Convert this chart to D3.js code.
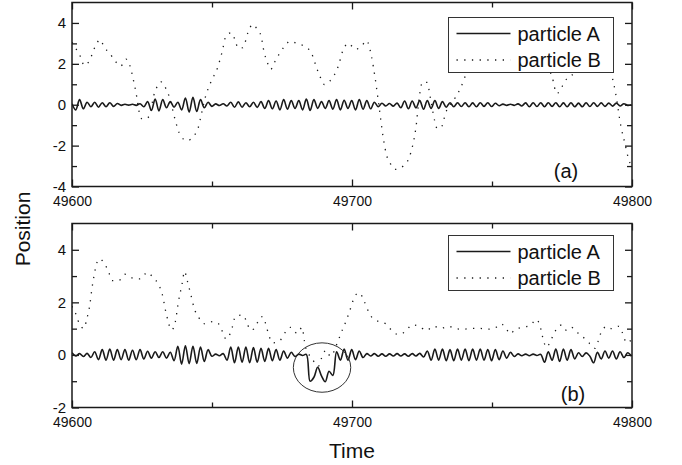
<!DOCTYPE html>
<html>
<head>
<meta charset="utf-8">
<script src="https://cdn.jsdelivr.net/npm/d3@7"></script>
<style>
  html, body { margin: 0; padding: 0; background: #fff; }
  svg { display: block; }
  text { font-family: "Liberation Sans", Arial, Helvetica, sans-serif; fill: #111; }
</style>
</head>
<body>
<svg id="chart" width="682" height="465"></svg>
<script>
// ---- data ---------------------------------------------------------------
const timeDomain = [49600, 49800];
const xMajorTicks = [49600, 49700, 49800];
const xMinorTicks = [49650, 49750];
const seriesNames = ["particle A", "particle B"];
const panelTags = ["(a)", "(b)"];

// particle A: successive turning points of the fast oscillation, one every half period
const halfPeriod = 1.35;

const topPosA = [
  0.05, -0.25, 0.25, -0.2,
  0.12, -0.1, 0.12, -0.12, 0.1, -0.1,
  0.1, -0.08, 0.06,
  -0.03, 0.02, -0.02, 0.02, -0.03, 0.05,
  -0.1, 0.15,
  -0.28, 0.28, -0.3, 0.25,
  -0.15, 0.15, -0.12, 0.12,
  -0.25, 0.33, -0.36, 0.36, -0.33, 0.25,
  -0.15, 0.12, -0.08,
  0.04, -0.04, 0.05, -0.06,
  0.12, -0.12, 0.14, -0.12, 0.1, -0.1, 0.12, -0.13,
  0.15, -0.18, 0.2, -0.2, 0.18, -0.25, 0.25, -0.22, 0.2, -0.18,
  0.2, -0.25, 0.28, -0.28, 0.25, -0.18, 0.15, -0.18, 0.2, -0.22,
  0.25, -0.25, 0.22, -0.18, 0.2, -0.25, 0.25, -0.22, 0.2, -0.2,
  0.12, -0.1,
  0.07, -0.06, 0.06, -0.07, 0.08,
  -0.15, 0.18, -0.2, 0.18, -0.15, 0.2, -0.22, 0.2, -0.18, 0.2, -0.18, 0.15, -0.12, 0.1,
  -0.1, 0.1, -0.09, 0.1, -0.1, 0.09, -0.1, 0.1, -0.08, 0.1, -0.09, 0.07, -0.05,
  0.03, -0.03, 0.02, -0.03, 0.04, -0.06,
  0.09, -0.1, 0.1, -0.09, 0.1, -0.1, 0.1, -0.08, 0.1, -0.1, 0.09, -0.1, 0.1, -0.1,
  0.08, -0.1, 0.1, -0.09, 0.1, -0.08, 0.09,
  -0.08, 0.08, -0.07, 0.08, -0.06, 0.05,
  -0.03, 0.0
];

const bottomPosA = [
  0.08, -0.04, 0.05, -0.06, 0.06,
  -0.1, 0.12,
  -0.18, 0.2, -0.2, 0.22, -0.2, 0.2, -0.18, 0.2, -0.2, 0.18, -0.18, 0.2, -0.15, 0.14,
  -0.12, 0.12, -0.1, 0.12, -0.12, 0.1,
  -0.22, 0.33, -0.35, 0.35, -0.33, 0.33, -0.32, 0.3, -0.25, 0.2,
  -0.05, 0.03, -0.03, 0.05,
  -0.2, 0.3, -0.3, 0.3, -0.28, 0.3, -0.3, 0.28, -0.28, 0.25,
  -0.25, 0.25, -0.22, 0.2, -0.2, 0.15,
  -0.12, 0.1, -0.06,
  0.03, -0.02, 0.02,
  -1.0, -0.85, -0.47, -0.8, -1.02, -0.62, -0.78,
  0.12, -0.2, 0.22, -0.2, 0.2, -0.18, 0.15, -0.1,
  0.05, -0.04, 0.05, -0.05, 0.04, -0.05, 0.04, -0.04, 0.05, -0.04, 0.04, -0.05, 0.05, -0.04, 0.06, -0.08,
  0.15, -0.2, 0.22, -0.2, 0.22, -0.22, 0.2, -0.22, 0.22, -0.2, 0.22, -0.22, 0.22, -0.2, 0.22, -0.2,
  0.2, -0.22, 0.2, -0.18, 0.15, -0.12, 0.1, -0.06, 0.04,
  -0.03, 0.03, -0.03, 0.03, -0.02, 0.02,
  -0.28,
  0.12, -0.2, 0.22, -0.25, 0.22, -0.2, 0.2, -0.15,
  0.08, -0.06, 0.08, -0.05,
  -0.3,
  0.1, -0.15, 0.15, -0.12, 0.15, -0.15, 0.12, -0.1,
  0.08, -0.05
];

// particle B: sampled times and positions
const topTimeB = [
  49600, 49601.8, 49603.2, 49604.3, 49606.1, 49608.3, 49610, 49611.5, 49613.6, 49615.5,
  49617.4, 49619.3, 49620.7, 49622, 49623.1, 49624, 49625.1, 49627, 49628.1, 49629.2,
  49630.2, 49631.8, 49633.6, 49634.8, 49635.6, 49636.9, 49638.7, 49641.1, 49643.5, 49645,
  49646.3, 49647.5, 49649.5, 49652, 49653.6, 49655, 49656.9, 49658.3, 49659.3, 49661,
  49662.9, 49664.5, 49666, 49667.5, 49668.6, 49669.8, 49671, 49672.4, 49675.7, 49677.9,
  49680.7, 49683.2, 49685.5, 49687.5, 49688.6, 49690.1, 49692.1, 49695.1, 49696.7, 49698.7,
  49701.3, 49703.6, 49705.2, 49706.9, 49708.3, 49709.5, 49711.3, 49712.4, 49713.6, 49715.6,
  49718.3, 49720.2, 49721.8, 49722.8, 49724, 49725.2, 49726.8, 49728, 49729.5, 49730.4,
  49731.8, 49733.5, 49736.8, 49738.8, 49740.8, 49744, 49748, 49752, 49757, 49762,
  49767, 49769.5, 49771.5, 49773.1, 49776.7, 49778.6, 49782, 49786, 49790, 49792.7,
  49794.2, 49796, 49797.5, 49798.8, 49800
];
const topPosB = [
  3.05, 2.65, 2.3, 1.92, 2.12, 2.85, 3.18, 2.82, 2.49, 2.12,
  1.89, 2.23, 1.9, 1.16, 0.41, -0.36, -0.7, -0.65, -0.29, 0.45,
  0.83, 1.12, 0.77, 0.36, -0.05, -0.77, -1.5, -1.76, -1.52, -1.16,
  -0.41, 0.31, 1.08, 1.82, 2.58, 3.36, 3.52, 3.14, 2.77, 2.79,
  3.55, 3.93, 3.72, 3.37, 2.58, 2.05, 1.73, 2.09, 2.82, 3.1,
  2.97, 2.85, 2.53, 1.75, 1.37, 0.99, 1.16, 1.89, 2.63, 3.0,
  2.71, 2.9, 3.14, 2.4, 1.27, 0.08, -1.74, -2.49, -2.85, -3.16,
  -3.0, -2.66, -1.91, -1.16, 0.34, 1.11, 1.09, 0.33, -0.77, -1.16,
  -1.12, -0.38, 0.33, 0.82, 1.52, 2.3, 2.6, 2.2, 2.7, 2.3,
  2.2, 1.9, 1.35, 0.55, 1.26, 1.45, 2.1, 2.4, 2.0, 1.45,
  0.52, -1.03, -1.91, -2.66, -3.05
];

const bottomTimeB = [
  49600, 49601.7, 49602.6, 49604.3, 49605.2, 49606.4, 49607.1, 49608, 49608.6, 49609.8,
  49611.9, 49613.2, 49614.3, 49616.7, 49618.9, 49621.7, 49624.3, 49626.9, 49629, 49631,
  49632.1, 49633.8, 49635.6, 49636.8, 49638.1, 49639.3, 49640.2, 49641, 49642.4, 49643.8,
  49645.2, 49647.5, 49650.2, 49652.4, 49653.7, 49655, 49656.8, 49658.4, 49660.8, 49662.5,
  49663.6, 49665.1, 49666.5, 49668, 49669.3, 49670.2, 49671.8, 49674.3, 49675.7, 49678.1,
  49680.4, 49682.2, 49683, 49683.6, 49685.5, 49688, 49689, 49690.7, 49692.3, 49695,
  49696.2, 49698.1, 49700, 49700.9, 49702.7, 49704.3, 49706.6, 49709.3, 49712.2, 49714,
  49716.4, 49719.1, 49721.4, 49724.1, 49726.5, 49729.3, 49731.6, 49734.6, 49736.8, 49739.7,
  49742.7, 49745.7, 49748.4, 49750.8, 49753.2, 49755.2, 49756.4, 49758.4, 49760.8, 49763.6,
  49765.9, 49767.1, 49768.4, 49769.4, 49770.7, 49771.9, 49773.4, 49774.9, 49776.7, 49778.4,
  49780.6, 49782.2, 49784.6, 49786.8, 49788, 49788.9, 49791.1, 49792.7, 49795.3, 49796.5,
  49798.1, 49800
];
const bottomPosB = [
  1.85, 1.47, 1.18, 1.01, 1.34, 1.93, 2.51, 3.08, 3.4, 3.65,
  3.42, 3.12, 2.83, 2.83, 3.07, 2.92, 2.89, 3.14, 2.94, 2.66,
  2.36, 1.5, 0.95, 1.22, 2.08, 2.69, 3.18, 2.89, 2.31, 1.72,
  1.43, 1.18, 1.27, 1.18, 0.89, 0.61, 0.89, 1.46, 1.52, 1.24,
  0.95, 0.99, 1.28, 1.46, 1.14, 0.78, 0.46, 0.55, 0.79, 1.05,
  0.82, 1.05, 0.53, 0.23, -0.1, -0.43, -0.15, 0.18, -0.05, 0.53,
  0.86, 1.35, 1.94, 2.23, 2.36, 2.05, 1.5, 1.28, 1.18, 0.95,
  0.78, 0.89, 1.14, 1.08, 0.93, 1.09, 1.01, 1.09, 1.0, 0.98,
  1.01, 1.01, 0.98, 1.01, 1.18, 0.98, 0.8, 0.98, 1.05, 1.12,
  1.35, 1.12, 0.55, 0.29, 0.48, 0.76, 1.04, 1.14, 0.93, 1.05,
  0.84, 0.71, 0.46, 0.25, 0.55, 0.84, 1.09, 1.0, 1.09, 0.86,
  0.46, 0.6
];

// marked event in panel (b): centre time, centre position, half-width (time), half-height (position)
const eventMark = { time: 49689.3, pos: -0.48, halfTime: 10.25, halfPos: 0.94 };

// ---- layout -------------------------------------------------------------
const plotLeft = 72, plotRight = 632;
const panels = [
  { top: 2.5,  bottom: 186.5, yDomain: [-4, 5], yMajor: [-4, -2, 0, 2, 4], yMinor: [-3, -1, 1, 3],
    posA: topPosA, timeB: topTimeB, posB: topPosB, tag: panelTags[0],
    legend: { x: 448.5, y: 17.5, w: 165, h: 55 }, tagPos: [566, 178] },
  { top: 223.5, bottom: 407.5, yDomain: [-2, 5], yMajor: [-2, 0, 2, 4], yMinor: [-1, 1, 3],
    posA: bottomPosA, timeB: bottomTimeB, posB: bottomPosB, tag: panelTags[1],
    legend: { x: 448.5, y: 235.5, w: 165, h: 55 }, tagPos: [573, 401] }
];

const svg = d3.select("#chart");
svg.append("rect").attr("width", 682).attr("height", 465).attr("fill", "#fff");

const x = d3.scaleLinear().domain(timeDomain).range([plotLeft, plotRight]);
const ink = "#1a1a1a";
const dotDash = "1.3,6.4";
const plainNumber = d => String(d);   // hyphen minus, as on the original axes

panels.forEach((p, k) => {
  const y = d3.scaleLinear().domain(p.yDomain).range([p.bottom, p.top]);
  const g = svg.append("g");

  const clipId = "clip" + k;
  svg.append("clipPath").attr("id", clipId)
    .append("rect").attr("x", plotLeft).attr("y", p.top)
    .attr("width", plotRight - plotLeft).attr("height", p.bottom - p.top);

  const plot = g.append("g").attr("clip-path", `url(#${clipId})`);

  // particle B, dotted
  const bData = p.timeB.map((t, i) => [t, p.posB[i]]);
  plot.append("path")
    .datum(bData)
    .attr("fill", "none")
    .attr("stroke", ink)
    .attr("stroke-width", 1.3)
    .attr("stroke-dasharray", dotDash)
    .attr("d", d3.line().x(d => x(d[0])).y(d => y(d[1])).curve(d3.curveMonotoneX));

  // particle A, solid
  const aData = p.posA.map((v, i) => [timeDomain[0] + i * halfPeriod, v]);
  plot.append("path")
    .datum(aData)
    .attr("fill", "none")
    .attr("stroke", ink)
    .attr("stroke-width", 1.6)
    .attr("stroke-linejoin", "round")
    .attr("d", d3.line().x(d => x(d[0])).y(d => y(d[1])).curve(d3.curveCatmullRom.alpha(0.5)));

  // axes: ticks point inward on all four sides
  const addAxis = (axis, transform, labels) => {
    const a = g.append("g").attr("transform", transform).call(axis);
    a.select(".domain").remove();
    a.selectAll(".tick line").attr("stroke", ink).attr("stroke-width", 1.3);
    a.selectAll("text").style("font-size", "14px").attr("fill", "#111");
    if (!labels) a.selectAll("text").remove();
    return a;
  };
  addAxis(d3.axisBottom(x).tickValues(xMajorTicks).tickSize(-7).tickPadding(10).tickFormat(plainNumber),
    `translate(0,${p.bottom})`, true);
  addAxis(d3.axisBottom(x).tickValues(xMinorTicks).tickSize(-5), `translate(0,${p.bottom})`, false);
  addAxis(d3.axisTop(x).tickValues(xMajorTicks).tickSize(-7), `translate(0,${p.top})`, false);
  addAxis(d3.axisTop(x).tickValues(xMinorTicks).tickSize(-5), `translate(0,${p.top})`, false);
  addAxis(d3.axisLeft(y).tickValues(p.yMajor).tickSize(-7).tickPadding(6).tickFormat(plainNumber),
    `translate(${plotLeft},0)`, true)
    .selectAll("text").style("font-size", "15px");
  addAxis(d3.axisLeft(y).tickValues(p.yMinor).tickSize(-5), `translate(${plotLeft},0)`, false);
  addAxis(d3.axisRight(y).tickValues(p.yMajor).tickSize(-7), `translate(${plotRight},0)`, false);
  addAxis(d3.axisRight(y).tickValues(p.yMinor).tickSize(-5), `translate(${plotRight},0)`, false);

  // frame
  g.append("rect")
    .attr("x", plotLeft).attr("y", p.top)
    .attr("width", plotRight - plotLeft).attr("height", p.bottom - p.top)
    .attr("fill", "none").attr("stroke", ink).attr("stroke-width", 1.5);

  // legend
  const L = p.legend;
  const lg = g.append("g");
  lg.append("rect").attr("x", L.x).attr("y", L.y).attr("width", L.w).attr("height", L.h)
    .attr("fill", "#fff").attr("stroke", "#333").attr("stroke-width", 1);
  seriesNames.forEach((name, i) => {
    const cy = L.y + 16 + i * 26.5;
    lg.append("line")
      .attr("x1", L.x + 8).attr("x2", L.x + 62).attr("y1", cy).attr("y2", cy)
      .attr("stroke", ink)
      .attr("stroke-width", 1.3)
      .attr("stroke-dasharray", i === 0 ? null : dotDash);
    lg.append("text")
      .attr("x", L.x + 69).attr("y", cy + 7)
      .style("font-size", "20px")
      .text(name);
  });

  // panel tag
  g.append("text")
    .attr("x", p.tagPos[0]).attr("y", p.tagPos[1])
    .attr("text-anchor", "middle")
    .style("font-size", "20px")
    .text(p.tag);

  // event marker in panel (b)
  if (k === 1) {
    g.append("ellipse")
      .attr("cx", x(eventMark.time))
      .attr("cy", y(eventMark.pos))
      .attr("rx", x(eventMark.time + eventMark.halfTime) - x(eventMark.time))
      .attr("ry", y(eventMark.pos - eventMark.halfPos) - y(eventMark.pos))
      .attr("fill", "none").attr("stroke", "#333").attr("stroke-width", 1);
  }
});

// axis titles
svg.append("text")
  .attr("x", (plotLeft + plotRight) / 2).attr("y", 458)
  .attr("text-anchor", "middle")
  .style("font-size", "21px")
  .text("Time");
svg.append("text")
  .attr("transform", "translate(30,229) rotate(-90)")
  .attr("text-anchor", "middle")
  .style("font-size", "21px")
  .text("Position");
</script>
</body>
</html>
